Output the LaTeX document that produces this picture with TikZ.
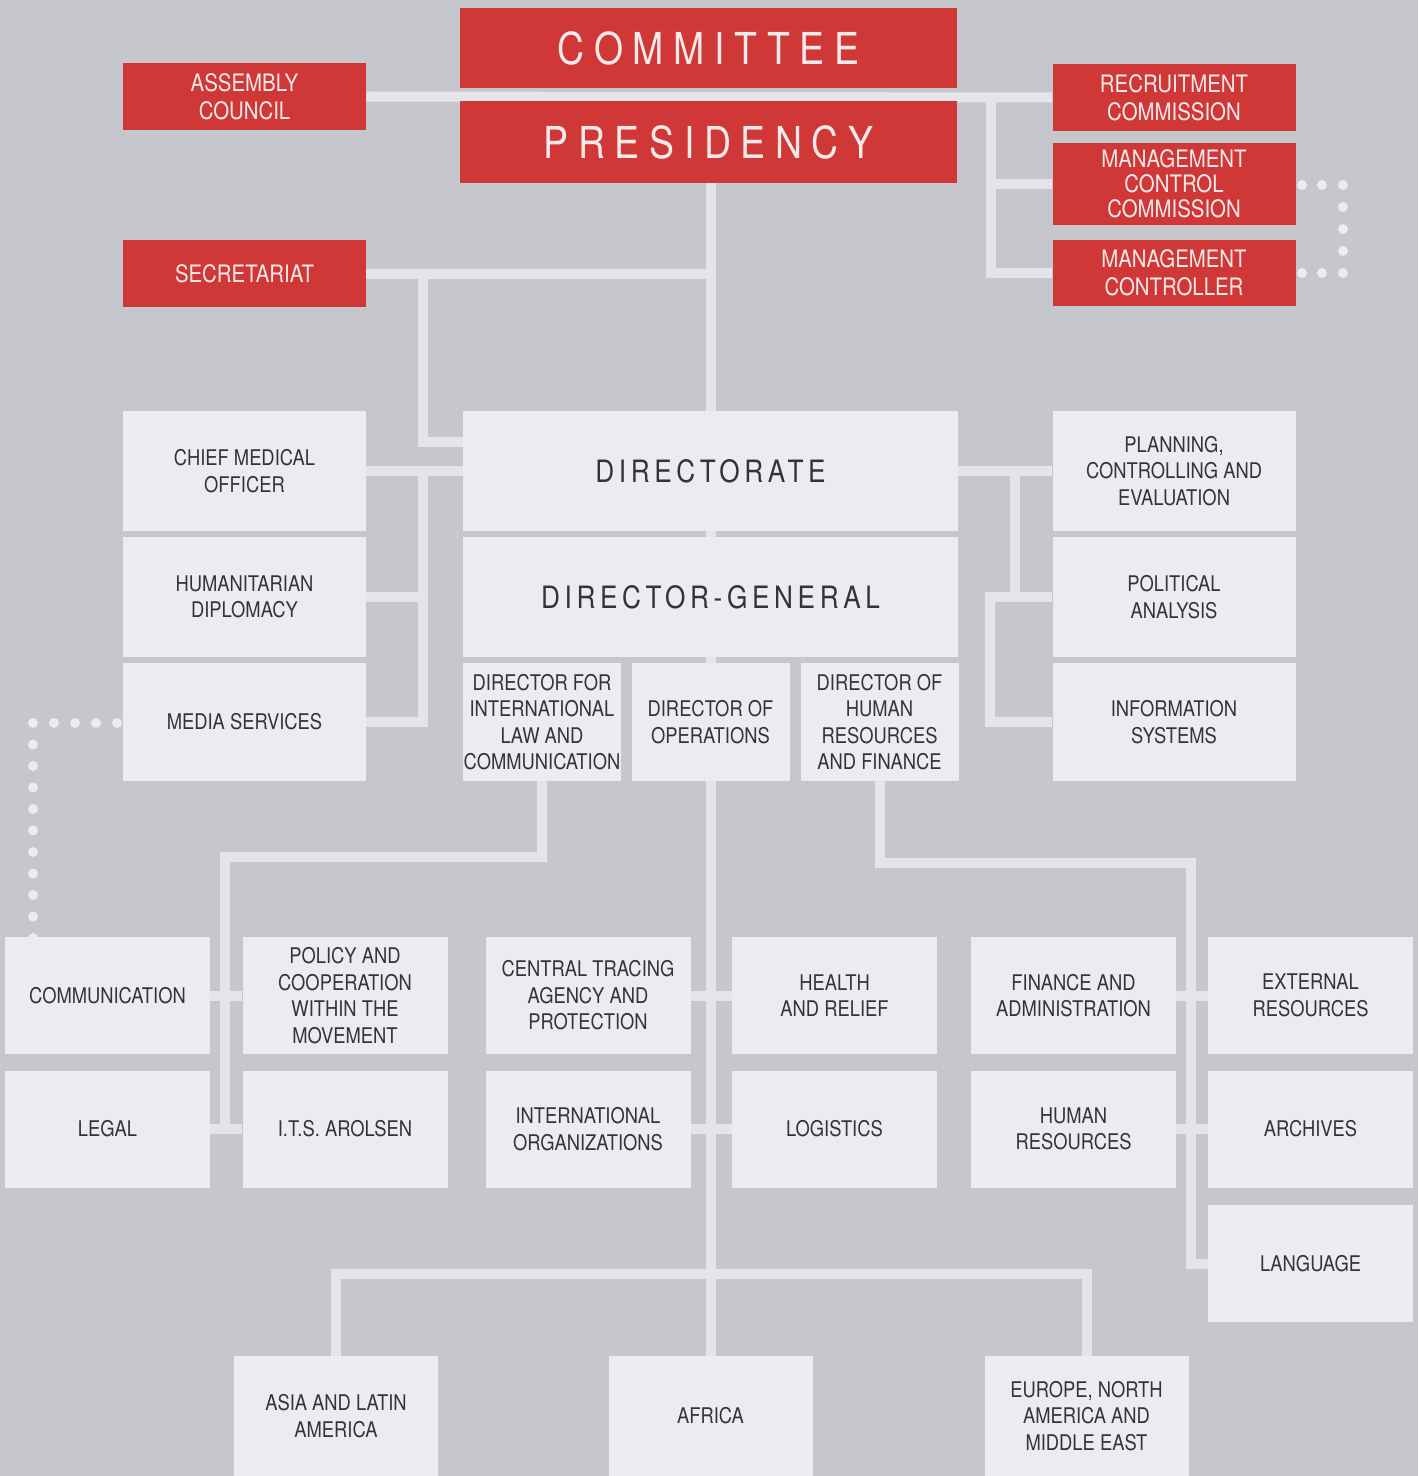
\documentclass[tikz,border=0pt]{standalone}
\usepackage{fontspec}
\setmainfont{TeX Gyre Heros}[FakeStretch=0.85]
\newfontfamily\titlefont{TeX Gyre Heros}[FakeStretch=0.85,LetterSpace=22]
\newfontfamily\headfont{TeX Gyre Heros}[FakeStretch=0.85,LetterSpace=15]
\definecolor{backgrey}{RGB}{197,199,204}
\definecolor{boxgrey}{RGB}{236,235,240}
\definecolor{linegrey}{RGB}{229,228,233}
\definecolor{chartred}{RGB}{208,56,56}
\definecolor{redtext}{RGB}{244,234,234}
\definecolor{boxtext}{RGB}{52,52,54}
\pgfdeclarelayer{lines}
\pgfsetlayers{lines,main}
\tikzset{
  redbox/.style={fill=chartred, text=redtext, inner sep=0pt, align=center,
    minimum width=121.5pt, minimum height=33.5pt, font=\fontsize{12}{14}\selectfont},
  titlebox/.style={redbox, minimum width=248.5pt, minimum height=40pt,
    font=\titlefont\fontsize{22}{24}\selectfont},
  greybox/.style={fill=boxgrey, text=boxtext, inner sep=0pt, align=center,
    font=\fontsize{10.8}{13.25}\selectfont},
  sidebox/.style={greybox, minimum width=121.5pt, minimum height=60pt},
  headbox/.style={greybox, minimum width=247.5pt, minimum height=60pt,
    font=\headfont\fontsize{15.4}{17}\selectfont},
  dirbox/.style={greybox, minimum width=79pt, minimum height=59pt},
  unitbox/.style={greybox, minimum width=102.5pt, minimum height=58.5pt},
  regionbox/.style={greybox, minimum width=102pt, minimum height=60pt},
  link/.style={draw=linegrey, line width=5pt},
  dot/.style={fill=boxgrey}
}
\begin{document}
\begin{tikzpicture}[x=0.5pt, y=-0.5pt]
\begin{pgfonlayer}{lines}
\fill[backgrey] (0,0) rectangle (1418,1476);
\end{pgfonlayer}

\node[titlebox] (committee) at (708.5,48) {COMMITTEE};
\node[titlebox, minimum height=41pt] (presidency) at (708.5,142) {PRESIDENCY};
\node[redbox] (assembly) at (244.5,96.5) {ASSEMBLY\\COUNCIL};
\node[redbox] (secretariat) at (244.5,274) {SECRETARIAT};
\node[redbox] (recruit) at (1174,97.5) {RECRUITMENT\\COMMISSION};
\node[redbox, minimum height=41pt, font=\fontsize{12}{12.5}\selectfont] (mcc) at (1174,184) {MANAGEMENT\\CONTROL\\COMMISSION};
\node[redbox, minimum height=33pt] (mc) at (1174,273) {MANAGEMENT\\CONTROLLER};

\node[sidebox] (cmo) at (244.5,471) {CHIEF MEDICAL\\OFFICER};
\node[sidebox] (humdip) at (244.5,597) {HUMANITARIAN\\DIPLOMACY};
\node[sidebox, minimum height=59pt] (media) at (244.5,722) {MEDIA SERVICES};
\node[headbox] (directorate) at (710.5,471) {DIRECTORATE};
\node[headbox] (dirgen) at (710.5,597) {DIRECTOR-GENERAL};
\node[sidebox] (pce) at (1174,471) {PLANNING,\\CONTROLLING AND\\EVALUATION};
\node[sidebox] (political) at (1174,597) {POLITICAL\\ANALYSIS};
\node[sidebox, minimum height=59pt] (infosys) at (1174,722) {INFORMATION\\SYSTEMS};

\node[dirbox] (dirlaw) at (542,722) {DIRECTOR FOR\\INTERNATIONAL\\LAW AND\\COMMUNICATION};
\node[dirbox] (dirops) at (710.5,722) {DIRECTOR OF\\OPERATIONS};
\node[dirbox] (dirhr) at (879.5,722) {DIRECTOR OF\\HUMAN\\RESOURCES\\AND FINANCE};

\node[unitbox] (comm) at (107.5,995.5) {COMMUNICATION};
\node[unitbox] (legal) at (107.5,1129) {LEGAL};
\node[unitbox] (policy) at (345,995.5) {POLICY AND\\COOPERATION\\WITHIN THE\\MOVEMENT};
\node[unitbox] (its) at (345,1129) {I.T.S. AROLSEN};
\node[unitbox] (cta) at (588,995.5) {CENTRAL TRACING\\AGENCY AND\\PROTECTION};
\node[unitbox] (intorg) at (588,1129) {INTERNATIONAL\\ORGANIZATIONS};
\node[unitbox] (health) at (834.5,995.5) {HEALTH\\AND RELIEF};
\node[unitbox] (logistics) at (834.5,1129) {LOGISTICS};
\node[unitbox] (finance) at (1073.5,995.5) {FINANCE AND\\ADMINISTRATION};
\node[unitbox] (humres) at (1073.5,1129) {HUMAN\\RESOURCES};
\node[unitbox] (external) at (1310.5,995.5) {EXTERNAL\\RESOURCES};
\node[unitbox] (archives) at (1310.5,1129) {ARCHIVES};
\node[unitbox] (language) at (1310.5,1263.5) {LANGUAGE};

\node[regionbox] (asia) at (336,1416) {ASIA AND LATIN\\AMERICA};
\node[regionbox] (africa) at (710.5,1416) {AFRICA};
\node[regionbox] (europe) at (1086.5,1416) {EUROPE, NORTH\\AMERICA AND\\MIDDLE EAST};

\begin{pgfonlayer}{lines}
\draw[link] (assembly.east) -- (recruit.west);
\draw[link] (directorate.north |- presidency.south) -- (directorate.north);
\coordinate (rbus) at (991,97);
\draw[link] (rbus) |- (mc.west);
\draw[link] (rbus |- mcc.west) -- (mcc.west);
\draw[link] (secretariat.east) -- (secretariat.east -| directorate.north);
\coordinate (sbus) at (423,274);
\coordinate (sturn) at (463,442);
\draw[link] (sbus) |- (sturn);

\draw[link] (cmo.east) -- (directorate.west |- cmo.east);
\coordinate (lbus) at (423,471);
\draw[link] (lbus) |- (media.east);
\draw[link] (humdip.east) -- (humdip.east -| lbus);
\draw[link] (pce.west) -- (directorate.east |- pce.west);
\coordinate (rbus1) at (1015,471);
\draw[link] (rbus1) |- (political.west);
\coordinate (rbus2) at (990,597);
\draw[link] (political.west) -- (rbus2) |- (infosys.west);

\draw[link] (directorate.south) -- (dirgen.north);
\draw[link] (dirgen.south) -- (africa.north);
\coordinate (lawbus) at (225,857);
\draw[link] (dirlaw.south) |- (lawbus) |- (legal.east);
\draw[link] (comm.east) -- (policy.west);
\draw[link] (legal.east) -- (its.west);
\draw[link] (cta.east) -- (health.west);
\draw[link] (intorg.east) -- (logistics.west);
\coordinate (hrbus) at (1191,863);
\draw[link] (dirhr.south) |- (hrbus) |- (language.west);
\draw[link] (finance.east) -- (external.west);
\draw[link] (humres.east) -- (archives.west);
\coordinate (regbar) at (710.5,1274);
\draw[link] (asia.north) |- (regbar) -| (europe.north);

\foreach \x in {33,54,75,96,117} \fill[dot] (\x,723) circle (2.5pt);
\foreach \y in {744.5,766,787.5,809,830.5,852,873.5,895,916.5,938} \fill[dot] (33,\y) circle (2.5pt);
\foreach \x in {1302,1322,1343} {
  \fill[dot] (\x,185) circle (2.5pt);
  \fill[dot] (\x,273) circle (2.5pt);
}
\foreach \y in {207,229,251} \fill[dot] (1343,\y) circle (2.5pt);
\end{pgfonlayer}
\end{tikzpicture}
\end{document}
